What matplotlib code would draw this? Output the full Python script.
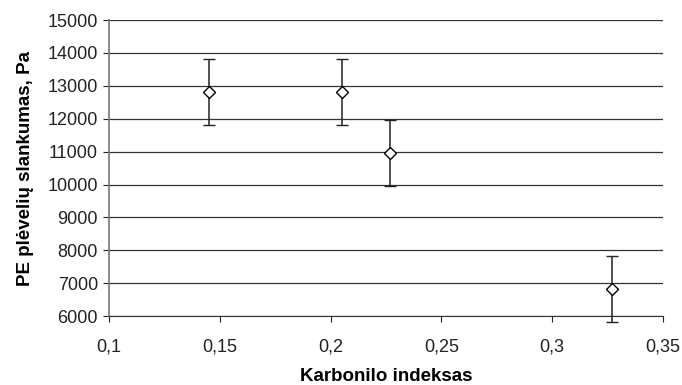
import matplotlib
matplotlib.use("Agg")
import matplotlib.pyplot as plt
from matplotlib.ticker import FuncFormatter

plt.rcParams['font.family'] = ['Liberation Sans', 'DejaVu Sans']

x_vals = [0.145, 0.205, 0.227, 0.327]
y_vals = [12800, 12800, 10950, 6820]
y_err = [1000, 1000, 1000, 1000]

x_ticks = [0.1, 0.15, 0.2, 0.25, 0.3, 0.35]
y_ticks = [6000, 7000, 8000, 9000, 10000, 11000, 12000, 13000, 14000, 15000]

fig = plt.figure(figsize=(6.82, 3.85), dpi=100)
ax = fig.add_axes([0.16, 0.179, 0.812, 0.769])

ax.set_xlim(0.1, 0.35)
ax.set_ylim(6000, 15000)
ax.set_yticks(y_ticks)
ax.set_xticks(x_ticks)
ax.yaxis.grid(True, color='#333333', linewidth=0.9)
ax.set_axisbelow(True)

ax.errorbar(x_vals, y_vals, yerr=y_err, fmt='D', markersize=6.5,
            markerfacecolor='white', markeredgecolor='black', markeredgewidth=1.0,
            ecolor='#222222', elinewidth=1.1, capsize=4, capthick=1.1,
            clip_on=False, zorder=5)

for s in ['top', 'right']:
    ax.spines[s].set_visible(False)
ax.spines['left'].set_color('#777777')
ax.spines['left'].set_linewidth(1.2)
ax.spines['bottom'].set_color('#333333')

comma = FuncFormatter(lambda v, p: ('%g' % v).replace('.', ','))
ax.xaxis.set_major_formatter(comma)
ax.tick_params(axis='both', labelsize=13, colors='#222222', length=4, direction='out')
ax.tick_params(axis='x', pad=12)
ax.tick_params(axis='y', pad=4)

ax.set_xlabel('Karbonilo indeksas', fontsize=13.5, fontweight='bold')
ax.xaxis.set_label_coords(0.5, -0.203)
ax.xaxis.label.set_verticalalignment('center')
ax.set_ylabel('PE plėvelių slankumas, Pa', fontsize=13.5, fontweight='bold', labelpad=10)

fig.savefig('out.png', dpi=100)
